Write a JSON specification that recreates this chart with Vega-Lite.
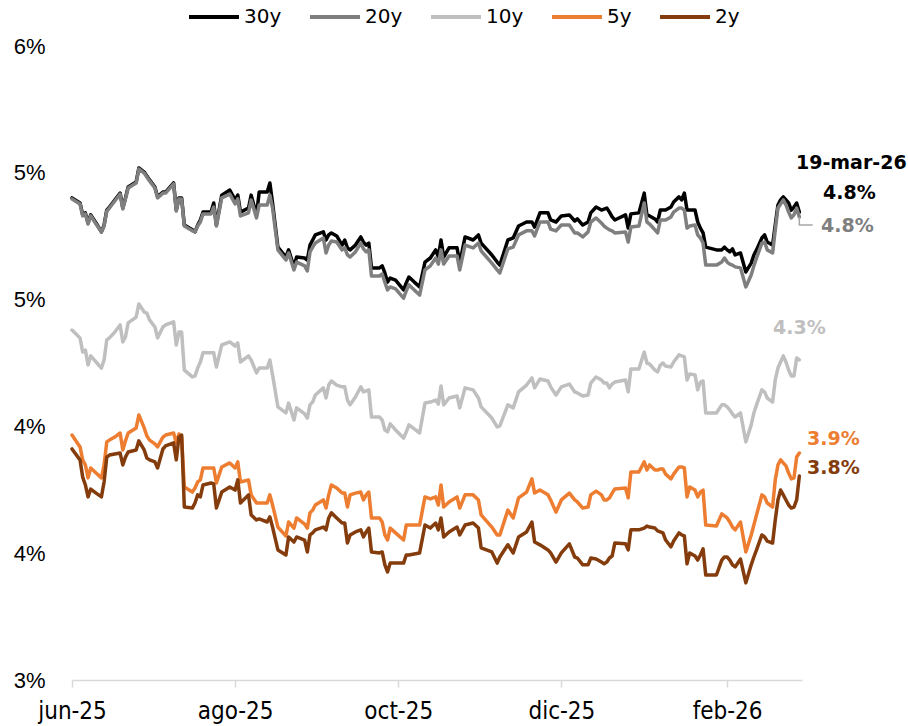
{
  "$schema": "https://vega.github.io/schema/vega-lite/v6.json",
  "width": 730,
  "height": 634,
  "autosize": {"type": "none"},
  "padding": {"left": 72, "top": 46, "right": 106, "bottom": 46},
  "background": "white",
  "config": {"view": {"stroke": null}, "font": "DejaVu Sans"},
  "datasets": {
    "yields": [
      {"date":"2025-06-01","30y":4.901,"20y":4.897,"10y":4.380,"5y":3.966,"2y":3.911},
      {"date":"2025-06-04","30y":4.881,"20y":4.877,"10y":4.349,"5y":3.919,"2y":3.868},
      {"date":"2025-06-05","30y":4.834,"20y":4.830,"10y":4.293,"5y":3.868,"2y":3.800},
      {"date":"2025-06-06","30y":4.842,"20y":4.838,"10y":4.301,"5y":3.848,"2y":3.769},
      {"date":"2025-06-07","30y":4.802,"20y":4.798,"10y":4.242,"5y":3.797,"2y":3.722},
      {"date":"2025-06-08","30y":4.834,"20y":4.830,"10y":4.278,"5y":3.836,"2y":3.753},
      {"date":"2025-06-10","30y":4.802,"20y":4.798,"10y":4.254,"5y":3.816,"2y":3.737},
      {"date":"2025-06-12","30y":4.767,"20y":4.767,"10y":4.230,"5y":3.797,"2y":3.722},
      {"date":"2025-06-13","30y":4.794,"20y":4.790,"10y":4.262,"5y":3.848,"2y":3.781},
      {"date":"2025-06-14","30y":4.853,"20y":4.849,"10y":4.341,"5y":3.939,"2y":3.879},
      {"date":"2025-06-15","30y":4.865,"20y":4.861,"10y":4.349,"5y":3.946,"2y":3.887},
      {"date":"2025-06-17","30y":4.893,"20y":4.889,"10y":4.372,"5y":3.958,"2y":3.891},
      {"date":"2025-06-19","30y":4.920,"20y":4.916,"10y":4.400,"5y":3.974,"2y":3.895},
      {"date":"2025-06-20","30y":4.861,"20y":4.857,"10y":4.333,"5y":3.907,"2y":3.848},
      {"date":"2025-06-21","30y":4.901,"20y":4.897,"10y":4.353,"5y":3.943,"2y":3.879},
      {"date":"2025-06-22","30y":4.944,"20y":4.940,"10y":4.408,"5y":3.974,"2y":3.899},
      {"date":"2025-06-25","30y":4.964,"20y":4.960,"10y":4.431,"5y":3.994,"2y":3.907},
      {"date":"2025-06-26","30y":5.019,"20y":5.015,"10y":4.483,"5y":4.045,"2y":3.943},
      {"date":"2025-06-28","30y":5.003,"20y":4.999,"10y":4.451,"5y":3.994,"2y":3.907},
      {"date":"2025-06-29","30y":4.987,"20y":4.983,"10y":4.447,"5y":3.962,"2y":3.875},
      {"date":"2025-06-30","30y":4.972,"20y":4.968,"10y":4.420,"5y":3.946,"2y":3.868},
      {"date":"2025-07-02","30y":4.944,"20y":4.940,"10y":4.392,"5y":3.931,"2y":3.860},
      {"date":"2025-07-03","30y":4.905,"20y":4.901,"10y":4.349,"5y":3.919,"2y":3.836},
      {"date":"2025-07-05","30y":4.924,"20y":4.920,"10y":4.392,"5y":3.958,"2y":3.911},
      {"date":"2025-07-06","30y":4.924,"20y":4.920,"10y":4.400,"5y":3.966,"2y":3.923},
      {"date":"2025-07-09","30y":4.960,"20y":4.956,"10y":4.412,"5y":3.974,"2y":3.935},
      {"date":"2025-07-10","30y":4.853,"20y":4.849,"10y":4.321,"5y":3.935,"2y":3.868},
      {"date":"2025-07-11","30y":4.901,"20y":4.897,"10y":4.372,"5y":3.970,"2y":3.958},
      {"date":"2025-07-12","30y":4.901,"20y":4.897,"10y":4.372,"5y":3.958,"2y":3.966},
      {"date":"2025-07-13","30y":4.794,"20y":4.790,"10y":4.222,"5y":3.761,"2y":3.682},
      {"date":"2025-07-16","30y":4.775,"20y":4.771,"10y":4.195,"5y":3.741,"2y":3.678},
      {"date":"2025-07-17","30y":4.767,"20y":4.767,"10y":4.199,"5y":3.757,"2y":3.698},
      {"date":"2025-07-18","30y":4.794,"20y":4.790,"10y":4.230,"5y":3.781,"2y":3.730},
      {"date":"2025-07-19","30y":4.814,"20y":4.806,"10y":4.254,"5y":3.789,"2y":3.722},
      {"date":"2025-07-20","30y":4.845,"20y":4.838,"10y":4.290,"5y":3.836,"2y":3.769},
      {"date":"2025-07-23","30y":4.845,"20y":4.838,"10y":4.290,"5y":3.836,"2y":3.777},
      {"date":"2025-07-24","30y":4.881,"20y":4.865,"10y":4.290,"5y":3.836,"2y":3.773},
      {"date":"2025-07-25","30y":4.794,"20y":4.790,"10y":4.234,"5y":3.777,"2y":3.678},
      {"date":"2025-07-27","30y":4.912,"20y":4.901,"10y":4.321,"5y":3.840,"2y":3.741},
      {"date":"2025-07-30","30y":4.932,"20y":4.916,"10y":4.333,"5y":3.856,"2y":3.761},
      {"date":"2025-08-01","30y":4.893,"20y":4.877,"10y":4.317,"5y":3.836,"2y":3.749},
      {"date":"2025-08-02","30y":4.912,"20y":4.897,"10y":4.329,"5y":3.860,"2y":3.789},
      {"date":"2025-08-03","30y":4.845,"20y":4.830,"10y":4.254,"5y":3.781,"2y":3.698},
      {"date":"2025-08-06","30y":4.861,"20y":4.842,"10y":4.278,"5y":3.789,"2y":3.730},
      {"date":"2025-08-07","30y":4.912,"20y":4.893,"10y":4.262,"5y":3.730,"2y":3.651},
      {"date":"2025-08-09","30y":4.834,"20y":4.822,"10y":4.211,"5y":3.698,"2y":3.631},
      {"date":"2025-08-10","30y":4.924,"20y":4.873,"10y":4.230,"5y":3.698,"2y":3.635},
      {"date":"2025-08-13","30y":4.924,"20y":4.873,"10y":4.230,"5y":3.698,"2y":3.623},
      {"date":"2025-08-14","30y":4.960,"20y":4.912,"10y":4.262,"5y":3.730,"2y":3.643},
      {"date":"2025-08-15","30y":4.881,"20y":4.861,"10y":4.203,"5y":3.690,"2y":3.603},
      {"date":"2025-08-17","30y":4.707,"20y":4.696,"10y":4.077,"5y":3.603,"2y":3.513},
      {"date":"2025-08-20","30y":4.668,"20y":4.656,"10y":4.053,"5y":3.568,"2y":3.493},
      {"date":"2025-08-21","30y":4.696,"20y":4.684,"10y":4.092,"5y":3.623,"2y":3.564},
      {"date":"2025-08-23","30y":4.629,"20y":4.617,"10y":4.025,"5y":3.599,"2y":3.544},
      {"date":"2025-08-24","30y":4.668,"20y":4.648,"10y":4.073,"5y":3.639,"2y":3.564},
      {"date":"2025-08-27","30y":4.664,"20y":4.633,"10y":4.049,"5y":3.615,"2y":3.552},
      {"date":"2025-08-28","30y":4.656,"20y":4.613,"10y":4.033,"5y":3.599,"2y":3.505},
      {"date":"2025-08-29","30y":4.715,"20y":4.688,"10y":4.085,"5y":3.659,"2y":3.572},
      {"date":"2025-08-30","30y":4.735,"20y":4.707,"10y":4.096,"5y":3.670,"2y":3.580},
      {"date":"2025-08-31","30y":4.755,"20y":4.723,"10y":4.124,"5y":3.690,"2y":3.592},
      {"date":"2025-09-03","30y":4.767,"20y":4.743,"10y":4.152,"5y":3.710,"2y":3.603},
      {"date":"2025-09-04","30y":4.735,"20y":4.684,"10y":4.112,"5y":3.678,"2y":3.592},
      {"date":"2025-09-05","30y":4.755,"20y":4.715,"10y":4.163,"5y":3.730,"2y":3.639},
      {"date":"2025-09-06","30y":4.763,"20y":4.731,"10y":4.179,"5y":3.769,"2y":3.659},
      {"date":"2025-09-08","30y":4.751,"20y":4.727,"10y":4.163,"5y":3.757,"2y":3.639},
      {"date":"2025-09-10","30y":4.715,"20y":4.696,"10y":4.156,"5y":3.737,"2y":3.619},
      {"date":"2025-09-11","30y":4.735,"20y":4.704,"10y":4.156,"5y":3.737,"2y":3.619},
      {"date":"2025-09-12","30y":4.704,"20y":4.676,"10y":4.104,"5y":3.682,"2y":3.540},
      {"date":"2025-09-13","30y":4.696,"20y":4.668,"10y":4.085,"5y":3.730,"2y":3.572},
      {"date":"2025-09-15","30y":4.715,"20y":4.688,"10y":4.116,"5y":3.737,"2y":3.584},
      {"date":"2025-09-17","30y":4.747,"20y":4.723,"10y":4.156,"5y":3.741,"2y":3.592},
      {"date":"2025-09-18","30y":4.727,"20y":4.700,"10y":4.136,"5y":3.710,"2y":3.564},
      {"date":"2025-09-19","30y":4.715,"20y":4.688,"10y":4.140,"5y":3.730,"2y":3.584},
      {"date":"2025-09-20","30y":4.723,"20y":4.696,"10y":4.144,"5y":3.741,"2y":3.599},
      {"date":"2025-09-21","30y":4.625,"20y":4.593,"10y":4.037,"5y":3.639,"2y":3.505},
      {"date":"2025-09-24","30y":4.625,"20y":4.593,"10y":4.037,"5y":3.639,"2y":3.501},
      {"date":"2025-09-25","30y":4.633,"20y":4.601,"10y":4.025,"5y":3.623,"2y":3.505},
      {"date":"2025-09-26","30y":4.605,"20y":4.569,"10y":3.986,"5y":3.572,"2y":3.454},
      {"date":"2025-09-27","30y":4.569,"20y":4.538,"10y":3.978,"5y":3.552,"2y":3.426},
      {"date":"2025-09-28","30y":4.585,"20y":4.550,"10y":4.010,"5y":3.599,"2y":3.461},
      {"date":"2025-09-30","30y":4.577,"20y":4.542,"10y":3.986,"5y":3.580,"2y":3.461},
      {"date":"2025-10-03","30y":4.538,"20y":4.506,"10y":3.954,"5y":3.552,"2y":3.461},
      {"date":"2025-10-04","30y":4.566,"20y":4.534,"10y":3.978,"5y":3.611,"2y":3.493},
      {"date":"2025-10-05","30y":4.589,"20y":4.558,"10y":4.006,"5y":3.611,"2y":3.493},
      {"date":"2025-10-07","30y":4.569,"20y":4.538,"10y":3.990,"5y":3.611,"2y":3.497},
      {"date":"2025-10-09","30y":4.550,"20y":4.518,"10y":3.974,"5y":3.611,"2y":3.501},
      {"date":"2025-10-11","30y":4.648,"20y":4.617,"10y":4.092,"5y":3.722,"2y":3.611},
      {"date":"2025-10-13","30y":4.664,"20y":4.633,"10y":4.096,"5y":3.714,"2y":3.599},
      {"date":"2025-10-15","30y":4.696,"20y":4.664,"10y":4.104,"5y":3.722,"2y":3.619},
      {"date":"2025-10-16","30y":4.668,"20y":4.640,"10y":4.088,"5y":3.690,"2y":3.592},
      {"date":"2025-10-17","30y":4.735,"20y":4.696,"10y":4.159,"5y":3.769,"2y":3.639},
      {"date":"2025-10-18","30y":4.668,"20y":4.640,"10y":4.085,"5y":3.682,"2y":3.564},
      {"date":"2025-10-20","30y":4.704,"20y":4.672,"10y":4.112,"5y":3.702,"2y":3.584},
      {"date":"2025-10-23","30y":4.704,"20y":4.672,"10y":4.120,"5y":3.722,"2y":3.603},
      {"date":"2025-10-24","30y":4.644,"20y":4.617,"10y":4.073,"5y":3.678,"2y":3.572},
      {"date":"2025-10-26","30y":4.747,"20y":4.715,"10y":4.152,"5y":3.730,"2y":3.611},
      {"date":"2025-10-29","30y":4.735,"20y":4.704,"10y":4.144,"5y":3.730,"2y":3.619},
      {"date":"2025-10-31","30y":4.755,"20y":4.723,"10y":4.112,"5y":3.710,"2y":3.599},
      {"date":"2025-11-01","30y":4.723,"20y":4.692,"10y":4.077,"5y":3.651,"2y":3.521},
      {"date":"2025-11-05","30y":4.676,"20y":4.644,"10y":4.033,"5y":3.603,"2y":3.505},
      {"date":"2025-11-07","30y":4.648,"20y":4.617,"10y":3.998,"5y":3.572,"2y":3.461},
      {"date":"2025-11-08","30y":4.636,"20y":4.605,"10y":4.002,"5y":3.572,"2y":3.485},
      {"date":"2025-11-11","30y":4.735,"20y":4.700,"10y":4.085,"5y":3.670,"2y":3.533},
      {"date":"2025-11-13","30y":4.743,"20y":4.707,"10y":4.073,"5y":3.639,"2y":3.501},
      {"date":"2025-11-15","30y":4.790,"20y":4.755,"10y":4.136,"5y":3.718,"2y":3.564},
      {"date":"2025-11-18","30y":4.806,"20y":4.771,"10y":4.163,"5y":3.741,"2y":3.584},
      {"date":"2025-11-20","30y":4.806,"20y":4.771,"10y":4.191,"5y":3.793,"2y":3.623},
      {"date":"2025-11-21","30y":4.786,"20y":4.751,"10y":4.152,"5y":3.737,"2y":3.544},
      {"date":"2025-11-23","30y":4.842,"20y":4.806,"10y":4.187,"5y":3.749,"2y":3.533},
      {"date":"2025-11-26","30y":4.842,"20y":4.806,"10y":4.179,"5y":3.730,"2y":3.513},
      {"date":"2025-11-27","30y":4.814,"20y":4.778,"10y":4.156,"5y":3.710,"2y":3.501},
      {"date":"2025-11-29","30y":4.806,"20y":4.771,"10y":4.124,"5y":3.662,"2y":3.465},
      {"date":"2025-12-01","30y":4.830,"20y":4.794,"10y":4.156,"5y":3.710,"2y":3.501},
      {"date":"2025-12-04","30y":4.834,"20y":4.794,"10y":4.167,"5y":3.737,"2y":3.537},
      {"date":"2025-12-06","30y":4.810,"20y":4.763,"10y":4.136,"5y":3.710,"2y":3.485},
      {"date":"2025-12-07","30y":4.818,"20y":4.763,"10y":4.132,"5y":3.702,"2y":3.481},
      {"date":"2025-12-09","30y":4.794,"20y":4.747,"10y":4.120,"5y":3.678,"2y":3.454},
      {"date":"2025-12-11","30y":4.806,"20y":4.767,"10y":4.124,"5y":3.682,"2y":3.454},
      {"date":"2025-12-12","30y":4.842,"20y":4.806,"10y":4.171,"5y":3.730,"2y":3.481},
      {"date":"2025-12-14","30y":4.865,"20y":4.822,"10y":4.195,"5y":3.745,"2y":3.477},
      {"date":"2025-12-16","30y":4.853,"20y":4.802,"10y":4.183,"5y":3.730,"2y":3.465},
      {"date":"2025-12-17","30y":4.857,"20y":4.790,"10y":4.171,"5y":3.710,"2y":3.458},
      {"date":"2025-12-18","30y":4.861,"20y":4.782,"10y":4.171,"5y":3.710,"2y":3.465},
      {"date":"2025-12-19","30y":4.845,"20y":4.775,"10y":4.152,"5y":3.718,"2y":3.481},
      {"date":"2025-12-20","30y":4.826,"20y":4.771,"10y":4.167,"5y":3.737,"2y":3.489},
      {"date":"2025-12-21","30y":4.814,"20y":4.763,"10y":4.175,"5y":3.753,"2y":3.540},
      {"date":"2025-12-25","30y":4.834,"20y":4.767,"10y":4.183,"5y":3.757,"2y":3.537},
      {"date":"2025-12-26","30y":4.782,"20y":4.727,"10y":4.136,"5y":3.718,"2y":3.513},
      {"date":"2025-12-27","30y":4.838,"20y":4.786,"10y":4.226,"5y":3.820,"2y":3.592},
      {"date":"2025-12-30","30y":4.842,"20y":4.790,"10y":4.226,"5y":3.820,"2y":3.592},
      {"date":"2026-01-01","30y":4.920,"20y":4.881,"10y":4.293,"5y":3.860,"2y":3.599},
      {"date":"2026-01-02","30y":4.834,"20y":4.806,"10y":4.250,"5y":3.828,"2y":3.607},
      {"date":"2026-01-03","30y":4.830,"20y":4.798,"10y":4.246,"5y":3.848,"2y":3.603},
      {"date":"2026-01-05","30y":4.818,"20y":4.775,"10y":4.222,"5y":3.828,"2y":3.599},
      {"date":"2026-01-06","30y":4.806,"20y":4.763,"10y":4.215,"5y":3.828,"2y":3.588},
      {"date":"2026-01-07","30y":4.853,"20y":4.814,"10y":4.242,"5y":3.832,"2y":3.584},
      {"date":"2026-01-08","30y":4.853,"20y":4.814,"10y":4.250,"5y":3.832,"2y":3.580},
      {"date":"2026-01-09","30y":4.853,"20y":4.814,"10y":4.238,"5y":3.812,"2y":3.552},
      {"date":"2026-01-11","30y":4.865,"20y":4.826,"10y":4.234,"5y":3.793,"2y":3.525},
      {"date":"2026-01-12","30y":4.885,"20y":4.845,"10y":4.254,"5y":3.812,"2y":3.548},
      {"date":"2026-01-14","30y":4.905,"20y":4.861,"10y":4.282,"5y":3.840,"2y":3.580},
      {"date":"2026-01-15","30y":4.893,"20y":4.861,"10y":4.278,"5y":3.840,"2y":3.572},
      {"date":"2026-01-16","30y":4.920,"20y":4.853,"10y":4.274,"5y":3.836,"2y":3.568},
      {"date":"2026-01-17","30y":4.853,"20y":4.782,"10y":4.183,"5y":3.722,"2y":3.458},
      {"date":"2026-01-18","30y":4.853,"20y":4.790,"10y":4.207,"5y":3.761,"2y":3.501},
      {"date":"2026-01-20","30y":4.853,"20y":4.794,"10y":4.203,"5y":3.749,"2y":3.489},
      {"date":"2026-01-21","30y":4.806,"20y":4.755,"10y":4.144,"5y":3.722,"2y":3.473},
      {"date":"2026-01-22","30y":4.782,"20y":4.743,"10y":4.175,"5y":3.741,"2y":3.493},
      {"date":"2026-01-23","30y":4.763,"20y":4.723,"10y":4.179,"5y":3.749,"2y":3.517},
      {"date":"2026-01-24","30y":4.707,"20y":4.636,"10y":4.053,"5y":3.611,"2y":3.414},
      {"date":"2026-01-28","30y":4.696,"20y":4.636,"10y":4.053,"5y":3.607,"2y":3.414},
      {"date":"2026-01-30","30y":4.696,"20y":4.648,"10y":4.085,"5y":3.655,"2y":3.473},
      {"date":"2026-01-31","30y":4.707,"20y":4.664,"10y":4.085,"5y":3.647,"2y":3.485},
      {"date":"2026-02-01","30y":4.696,"20y":4.648,"10y":4.077,"5y":3.639,"2y":3.485},
      {"date":"2026-02-02","30y":4.688,"20y":4.640,"10y":4.065,"5y":3.623,"2y":3.473},
      {"date":"2026-02-03","30y":4.700,"20y":4.636,"10y":4.049,"5y":3.603,"2y":3.454},
      {"date":"2026-02-04","30y":4.676,"20y":4.629,"10y":4.037,"5y":3.592,"2y":3.446},
      {"date":"2026-02-06","30y":4.684,"20y":4.625,"10y":4.053,"5y":3.623,"2y":3.477},
      {"date":"2026-02-08","30y":4.609,"20y":4.550,"10y":3.939,"5y":3.505,"2y":3.383},
      {"date":"2026-02-10","30y":4.644,"20y":4.597,"10y":4.006,"5y":3.572,"2y":3.454},
      {"date":"2026-02-11","30y":4.676,"20y":4.633,"10y":4.053,"5y":3.611,"2y":3.485},
      {"date":"2026-02-12","30y":4.696,"20y":4.664,"10y":4.085,"5y":3.651,"2y":3.513},
      {"date":"2026-02-14","30y":4.743,"20y":4.723,"10y":4.144,"5y":3.730,"2y":3.572},
      {"date":"2026-02-15","30y":4.755,"20y":4.727,"10y":4.136,"5y":3.722,"2y":3.564},
      {"date":"2026-02-16","30y":4.727,"20y":4.696,"10y":4.112,"5y":3.698,"2y":3.548},
      {"date":"2026-02-18","30y":4.715,"20y":4.684,"10y":4.096,"5y":3.682,"2y":3.540},
      {"date":"2026-02-19","30y":4.794,"20y":4.775,"10y":4.183,"5y":3.789,"2y":3.631},
      {"date":"2026-02-20","30y":4.873,"20y":4.861,"10y":4.230,"5y":3.848,"2y":3.710},
      {"date":"2026-02-21","30y":4.893,"20y":4.877,"10y":4.254,"5y":3.868,"2y":3.749},
      {"date":"2026-02-22","30y":4.905,"20y":4.893,"10y":4.278,"5y":3.856,"2y":3.730},
      {"date":"2026-02-23","30y":4.893,"20y":4.873,"10y":4.254,"5y":3.844,"2y":3.710},
      {"date":"2026-02-24","30y":4.881,"20y":4.845,"10y":4.222,"5y":3.816,"2y":3.690},
      {"date":"2026-02-25","30y":4.853,"20y":4.822,"10y":4.199,"5y":3.793,"2y":3.678},
      {"date":"2026-02-26","30y":4.865,"20y":4.834,"10y":4.199,"5y":3.797,"2y":3.682},
      {"date":"2026-02-27","30y":4.881,"20y":4.861,"10y":4.270,"5y":3.879,"2y":3.710},
      {"date":"2026-02-28","30y":4.845,"20y":4.826,"10y":4.262,"5y":3.895,"2y":3.804}
    ],
    "last": [
      {"series":"30y","date":"2026-02-28","value":4.845},
      {"series":"20y","date":"2026-02-28","value":4.826},
      {"series":"10y","date":"2026-02-28","value":4.262},
      {"series":"5y","date":"2026-02-28","value":3.895},
      {"series":"2y","date":"2026-02-28","value":3.804}
    ],
    "leader": [
      {"date":"2026-02-28","value":4.826},
      {"date":"2026-02-28","value":4.794},
      {"date":"2026-03-05","value":4.794}
    ]
  },
  "encoding": {
    "x": {
      "field": "date",
      "type": "temporal",
      "scale": {"type": "utc", "domain": [{"year": 2025, "month": 6, "date": 1, "utc": true}, {"year": 2026, "month": 3, "date": 1, "utc": true}]},
      "axis": {
        "values": [
          {"year": 2025, "month": 6, "date": 1, "utc": true},
          {"year": 2025, "month": 8, "date": 1, "utc": true},
          {"year": 2025, "month": 10, "date": 1, "utc": true},
          {"year": 2025, "month": 12, "date": 1, "utc": true},
          {"year": 2026, "month": 2, "date": 1, "utc": true}
        ],
        "labelExpr": "['ene','feb','mar','abr','may','jun','jul','ago','sep','oct','nov','dic'][utcmonth(datum.value)] + '-' + utcFormat(datum.value, '%y')",
        "title": null,
        "grid": false,
        "domainColor": "#D9D9D9",
        "domainWidth": 1.5,
        "tickColor": "#D9D9D9",
        "tickWidth": 1.5,
        "tickSize": 7,
        "labelFont": "Liberation Sans Narrow, DejaVu Sans Condensed, Liberation Sans",
        "labelFontSize": 24,
        "labelColor": "#000000",
        "labelPadding": 12,
        "labelFlush": false,
        "labelOverlap": false
      }
    },
    "y": {
      "field": "value",
      "type": "quantitative",
      "scale": {"domain": [3, 5.5], "nice": false, "zero": false},
      "axis": {
        "values": [3, 3.5, 4, 4.5, 5, 5.5],
        "labelExpr": "round(datum.value) + '%'",
        "title": null,
        "grid": false,
        "domain": false,
        "ticks": false,
        "labelFont": "Liberation Sans",
        "labelFontSize": 22,
        "labelColor": "#000000",
        "labelPadding": 27
      }
    }
  },
  "layer": [
    {
      "data": {"name": "yields"},
      "transform": [{"fold": ["30y", "20y", "10y", "5y", "2y"], "as": ["series", "value"]}],
      "mark": {"type": "line", "strokeWidth": 3.5, "strokeJoin": "round", "strokeCap": "round"},
      "encoding": {
        "color": {
          "field": "series",
          "type": "nominal",
          "scale": {"domain": ["30y", "20y", "10y", "5y", "2y"], "range": ["#000000", "#7F7F7F", "#BFBFBF", "#ED7D31", "#843C0C"]},
          "legend": {
            "orient": "none",
            "legendX": 115,
            "legendY": -56,
            "direction": "horizontal",
            "columns": 5,
            "title": null,
            "symbolType": "stroke",
            "symbolSize": 2500,
            "symbolStrokeWidth": 4,
            "labelFont": "DejaVu Sans",
            "labelFontSize": 20,
            "labelColor": "#000000",
            "labelOffset": 3,
            "columnPadding": 20,
            "padding": 0
          }
        }
      }
    },
    {
      "data": {"name": "leader"},
      "mark": {"type": "line", "color": "#A6A6A6", "strokeWidth": 1.5},
      "encoding": {}
    },
    {
      "data": {"name": "last"},
      "transform": [{"filter": "datum.series === '30y'"}],
      "mark": {"type": "text", "font": "DejaVu Sans", "fontWeight": "bold", "fontSize": 19, "color": "#000000", "dx": 52, "dy": -49},
      "encoding": {"text": {"value": "19-mar-26"}}
    },
    {
      "data": {"name": "last"},
      "transform": [{"filter": "datum.series === '30y'"}, {"calculate": "format(datum.value, '.1f') + '%'", "as": "label"}],
      "mark": {"type": "text", "font": "DejaVu Sans", "fontWeight": "bold", "fontSize": 19, "color": "#000000", "dx": 50, "dy": -19},
      "encoding": {"text": {"field": "label"}}
    },
    {
      "data": {"name": "last"},
      "transform": [{"filter": "datum.series === '20y'"}, {"calculate": "format(datum.value, '.1f') + '%'", "as": "label"}],
      "mark": {"type": "text", "font": "DejaVu Sans", "fontWeight": "bold", "fontSize": 19, "color": "#7F7F7F", "dx": 48, "dy": 9},
      "encoding": {"text": {"field": "label"}}
    },
    {
      "data": {"name": "last"},
      "transform": [{"filter": "datum.series === '10y'"}, {"calculate": "format(datum.value, '.1f') + '%'", "as": "label"}],
      "mark": {"type": "text", "font": "DejaVu Sans", "fontWeight": "bold", "fontSize": 19, "color": "#BFBFBF", "dx": 0, "dy": -32},
      "encoding": {"text": {"field": "label"}}
    },
    {
      "data": {"name": "last"},
      "transform": [{"filter": "datum.series === '5y'"}, {"calculate": "format(datum.value, '.1f') + '%'", "as": "label"}],
      "mark": {"type": "text", "font": "DejaVu Sans", "fontWeight": "bold", "fontSize": 19, "color": "#ED7D31", "dx": 34, "dy": -14},
      "encoding": {"text": {"field": "label"}}
    },
    {
      "data": {"name": "last"},
      "transform": [{"filter": "datum.series === '2y'"}, {"calculate": "format(datum.value, '.1f') + '%'", "as": "label"}],
      "mark": {"type": "text", "font": "DejaVu Sans", "fontWeight": "bold", "fontSize": 19, "color": "#843C0C", "dx": 34, "dy": -8},
      "encoding": {"text": {"field": "label"}}
    }
  ]
}
